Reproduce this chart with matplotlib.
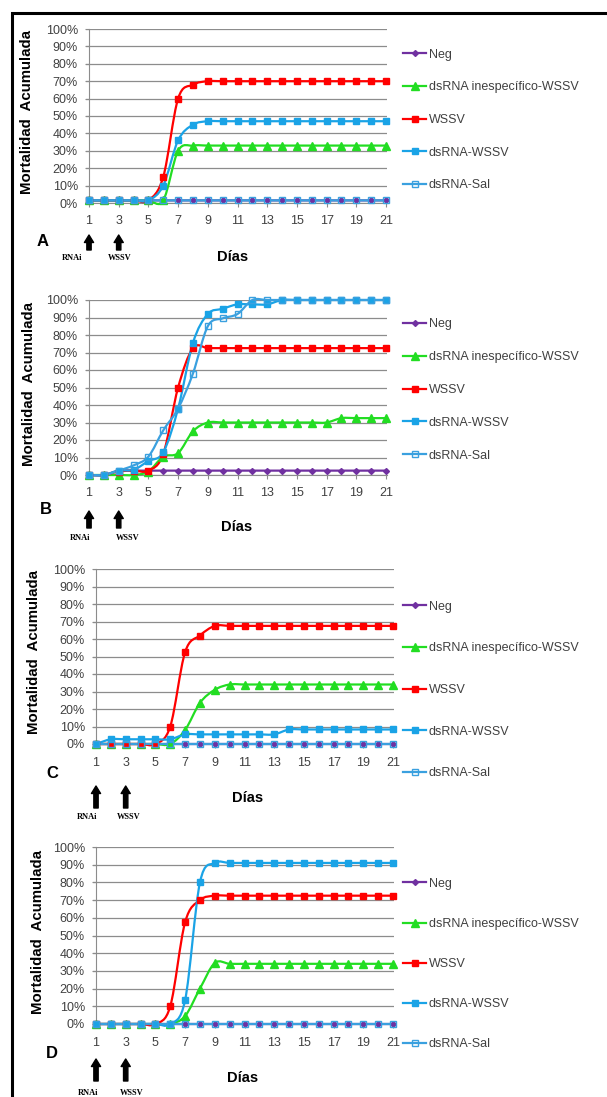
import matplotlib
matplotlib.use("Agg")
import matplotlib.pyplot as plt
import numpy as np
from matplotlib.path import Path
from matplotlib.patches import PathPatch, Rectangle
from matplotlib.lines import Line2D

# ── datos: mortalidad acumulada (%) por día ──
days = list(range(1, 22))
labels = ["Neg", "dsRNA inespecífico-WSSV", "WSSV", "dsRNA-WSSV", "dsRNA-Sal"]

# panel A
neg_a    = [1.5, 1.5, 1.5, 1.5, 1.5, 1.5, 1.5, 1.5, 1.5, 1.5, 1.5, 1.5, 1.5, 1.5, 1.5, 1.5, 1.5, 1.5, 1.5, 1.5, 1.5]
inesp_a  = [1.5, 1.5, 1.5, 1.5, 1.5, 1.5, 30, 33, 33, 33, 33, 33, 33, 33, 33, 33, 33, 33, 33, 33, 33]
wssv_a   = [1.5, 1.5, 1.5, 1.5, 1.5, 15, 60, 68, 70, 70, 70, 70, 70, 70, 70, 70, 70, 70, 70, 70, 70]
dswssv_a = [1.5, 1.5, 1.5, 1.5, 1.5, 10, 36, 45, 47, 47, 47, 47, 47, 47, 47, 47, 47, 47, 47, 47, 47]
sal_a    = [1.5, 1.5, 1.5, 1.5, 1.5, 1.5, 1.5, 1.5, 1.5, 1.5, 1.5, 1.5, 1.5, 1.5, 1.5, 1.5, 1.5, 1.5, 1.5, 1.5, 1.5]

# panel B
neg_b    = [0, 0, 2.5, 2.5, 2.5, 2.5, 2.5, 2.5, 2.5, 2.5, 2.5, 2.5, 2.5, 2.5, 2.5, 2.5, 2.5, 2.5, 2.5, 2.5, 2.5]
inesp_b  = [0, 0, 0, 0, 2, 10.5, 12.5, 25, 30, 30, 30, 30, 30, 30, 30, 30, 30, 32.5, 32.5, 32.5, 32.5]
wssv_b   = [0, 0, 2, 2.5, 2.5, 12, 50, 72.5, 72.5, 72.5, 72.5, 72.5, 72.5, 72.5, 72.5, 72.5, 72.5, 72.5, 72.5, 72.5, 72.5]
dswssv_b = [0, 0, 2.5, 3, 8, 13, 38, 75.5, 92, 95, 97.5, 97.5, 97.5, 100, 100, 100, 100, 100, 100, 100, 100]
sal_b    = [0, 0, 2.5, 5.5, 10.5, 25.5, 38, 58, 85, 89.5, 92, 100, 100, 100, 100, 100, 100, 100, 100, 100, 100]

# panel C
neg_c    = [0, 0, 0, 0, 0, 0, 0, 0, 0, 0, 0, 0, 0, 0, 0, 0, 0, 0, 0, 0, 0]
inesp_c  = [0, 0, 0, 0, 0, 0, 8, 23.5, 31, 34, 34, 34, 34, 34, 34, 34, 34, 34, 34, 34, 34]
wssv_c   = [0, 0, 0, 0, 0, 10, 52.5, 62, 67.5, 67.5, 67.5, 67.5, 67.5, 67.5, 67.5, 67.5, 67.5, 67.5, 67.5, 67.5, 67.5]
dswssv_c = [0, 2.7, 2.7, 2.7, 2.7, 2.7, 5.5, 5.5, 5.5, 5.5, 5.5, 5.5, 5.5, 8.3, 8.3, 8.3, 8.3, 8.3, 8.3, 8.3, 8.3]
sal_c    = [0, 0, 0, 0, 0, 0, 0, 0, 0, 0, 0, 0, 0, 0, 0, 0, 0, 0, 0, 0, 0]

# panel D
neg_d    = [0, 0, 0, 0, 0, 0, 0, 0, 0, 0, 0, 0, 0, 0, 0, 0, 0, 0, 0, 0, 0]
inesp_d  = [0, 0, 0, 0, 0, 0, 4.5, 20, 34.5, 34, 34, 34, 34, 34, 34, 34, 34, 34, 34, 34, 34]
wssv_d   = [0, 0, 0, 0, 0, 10, 57.5, 70, 72.5, 72.5, 72.5, 72.5, 72.5, 72.5, 72.5, 72.5, 72.5, 72.5, 72.5, 72.5, 72.5]
dswssv_d = [0, 0, 0, 0, 0, 0, 13.5, 80, 91, 91, 91, 91, 91, 91, 91, 91, 91, 91, 91, 91, 91]
sal_d    = [0, 0, 0, 0, 0, 0, 0, 0, 0, 0, 0, 0, 0, 0, 0, 0, 0, 0, 0, 0, 0]

# estilo de cada serie (color, marcador, tamaño, relleno)
styles = [
    dict(color="#7030A0", marker="D", ms=3.0, mfc="#7030A0"),
    dict(color="#22DD22", marker="^", ms=5.5, mfc="#22DD22"),
    dict(color="#FF0000", marker="s", ms=5.0, mfc="#FF0000"),
    dict(color="#1AA3E6", marker="s", ms=4.6, mfc="#1AA3E6"),
    dict(color="#3AA0DF", marker="s", ms=4.6, mfc="none"),
]

W, H = 607, 1097
fig = plt.figure(figsize=(W / 100, H / 100), dpi=100)
plt.rcParams["font.family"] = ["Liberation Sans", "DejaVu Sans"]


def fx(px):
    return px / W


def fy(py):
    return 1 - py / H


def smooth_path(x, y):
    # curva suavizada tipo Excel (Bezier Catmull-Rom)
    pts = np.column_stack([x, y]).astype(float)
    n = len(pts)
    verts, codes = [pts[0]], [Path.MOVETO]
    for i in range(n - 1):
        p0 = pts[i - 1] if i > 0 else pts[i]
        p1, p2 = pts[i], pts[i + 1]
        p3 = pts[i + 2] if i + 2 < n else pts[i + 1]
        verts += [p1 + (p2 - p0) / 6, p2 - (p3 - p1) / 6, p2]
        codes += [Path.CURVE4] * 3
    return Path(verts, codes)


# layout: (letra, series, d1px, d21px, left, right, top, bottom, ylab_x, dias, letra_xy,
#          flecha_y, rnai_x, wssv_x, txt_y, leyenda_cy, espaciado)
panels = [
    ("A", [neg_a, inesp_a, wssv_a, dswssv_a, sal_a], 89, 386, 86, 387, 29, 203,
     27, (233, 257), (43, 242), (235, 250), 72, 120, 258, 120, 1.65),
    ("B", [neg_b, inesp_b, wssv_b, dswssv_b, sal_b], 89, 386, 86, 387, 300, 475,
     29, (237, 527), (46, 510), (511, 528), 80, 128, 538, 390, 1.67),
    ("C", [neg_c, inesp_c, wssv_c, dswssv_c, sal_c], 96, 393, 93, 394, 569, 744,
     34, (248, 798), (52, 773), (786, 808), 87, 129, 817, 690, 2.37),
    ("D", [neg_d, inesp_d, wssv_d, dswssv_d, sal_d], 96, 393, 93, 394, 847, 1024,
     38, (243, 1078), (52, 1053), (1059, 1081), 88, 132, 1093, 964, 2.25),
]

grid_c = "#8C8C8C"
txt_c = "#404040"

for (letter, series, d1, d21, left, right, top, bottom, ylx, dias, lxy,
     arr_y, rx, wx, ty, leg_cy, lspace) in panels:
    ax = fig.add_axes([fx(left), fy(bottom), (right - left) / W, (bottom - top) / H])
    pd = (d21 - d1) / 20
    ax.set_xlim(1 - (d1 - left) / pd, 21 + (right - d21) / pd)
    ax.set_ylim(0, 100)

    for vals, st in zip(series, styles):
        ax.add_patch(PathPatch(smooth_path(days, vals), fill=False, edgecolor=st["color"],
                               lw=1.6, clip_on=False, zorder=3))
        ax.plot(days, vals, ls="none", marker=st["marker"], ms=st["ms"], color=st["color"],
                mfc=st["mfc"], mec=st["color"], mew=1.0, clip_on=False, zorder=4)

    ax.set_yticks(np.arange(0, 101, 10))
    ax.set_yticklabels([f"{v}%" for v in range(0, 101, 10)])
    ax.set_xticks(days[::2])
    ax.grid(axis="y", color=grid_c, lw=0.9)
    ax.set_axisbelow(True)
    for s in ["top", "right"]:
        ax.spines[s].set_visible(False)
    ax.spines["left"].set_position(("data", 1))
    ax.spines["left"].set_color(grid_c)
    ax.spines["bottom"].set_color(grid_c)
    ax.tick_params(axis="y", length=3, pad=5, color=grid_c, labelsize=9, labelcolor=txt_c)
    ax.tick_params(axis="x", length=3, pad=6, color=grid_c, labelsize=9, labelcolor=txt_c)

    fig.text(fx(ylx), fy((top + bottom) / 2 - 4), "Mortalidad  Acumulada", rotation=90,
             ha="center", va="center", fontsize=10.8, fontweight="bold")
    fig.text(fx(dias[0]), fy(dias[1]), "Días", ha="center", va="center",
             fontsize=10.5, fontweight="bold")
    fig.text(fx(lxy[0]), fy(lxy[1]), letter, ha="center", va="center",
             fontsize=12, fontweight="bold")

    for day in (1, 3):
        ax.annotate("", xy=(day, fy(arr_y[0])), xytext=(day, fy(arr_y[1])),
                    xycoords=("data", "figure fraction"),
                    textcoords=("data", "figure fraction"),
                    arrowprops=dict(arrowstyle="simple,head_width=0.55,head_length=0.45,tail_width=0.26",
                                    color="black", mutation_scale=12, shrinkA=0, shrinkB=0))
    fig.text(fx(rx), fy(ty), "RNAi", ha="center", va="center", fontsize=6,
             fontweight="bold", family="Liberation Serif")
    fig.text(fx(wx), fy(ty), "WSSV", ha="center", va="center", fontsize=6,
             fontweight="bold", family="Liberation Serif")

    handles = [Line2D([], [], color=st["color"], marker=st["marker"], ms=st["ms"],
                      mfc=st["mfc"], mec=st["color"], lw=1.6) for st in styles]
    ax.legend(handles, labels, loc="center left", bbox_to_anchor=(fx(403), fy(leg_cy)),
              bbox_transform=fig.transFigure, frameon=False, borderpad=0, borderaxespad=0,
              handlelength=1.85, handletextpad=0.2, labelspacing=lspace, fontsize=9,
              labelcolor=txt_c)

# marco negro
fig.add_artist(Rectangle((fx(12), fy(H + 20)), 1, fy(13) - fy(H + 20), transform=fig.transFigure,
                         fill=False, edgecolor="black", lw=2.2))

fig.savefig("out.png", dpi=100)
